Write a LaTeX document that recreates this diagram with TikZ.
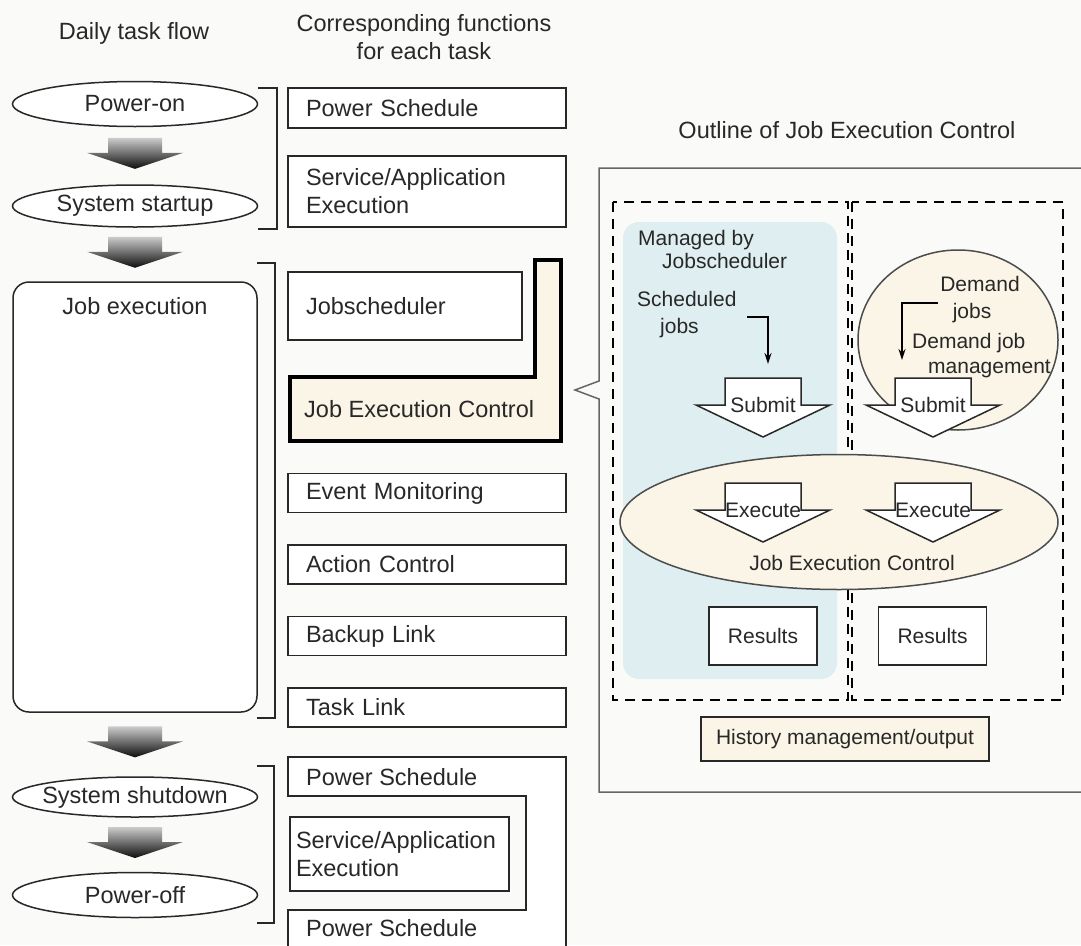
\documentclass[tikz,border=0pt]{standalone}
\usepackage{fontspec}
\setmainfont{Liberation Sans}
\usepackage{tikz}
\usetikzlibrary{shapes,arrows.meta,calc}
\definecolor{bgcol}{RGB}{250,251,249}
\definecolor{cream}{RGB}{250,245,230}
\definecolor{paleblue}{RGB}{223,238,240}
\definecolor{ink}{RGB}{40,40,40}
\newcommand{\mainsz}{\fontsize{23.5}{28}\selectfont}
\newcommand{\panelsz}{\fontsize{21}{26}\selectfont}
\tikzstyle{task}=[ellipse,draw=ink,line width=1.5pt,fill=white,inner xsep=-30pt,inner ysep=-8pt,minimum width=245pt,text=ink,font=\mainsz]
\tikzstyle{func}=[rectangle,draw=ink,line width=1.8pt,fill=white,inner xsep=18pt,inner ysep=0pt,text=ink,font=\mainsz,align=left]
\tikzstyle{flowarrow}=[top color=black!20,bottom color=black!95,draw=none]
\tikzstyle{bracket}=[draw=ink,line width=1.5pt]
\tikzstyle{dashbox}=[draw=black,line width=2pt,dash pattern=on 10pt off 7pt]
\tikzstyle{blockarrow}=[draw=ink,line width=1.5pt,fill=white,line join=miter]
\tikzstyle{paneltext}=[text=ink,font=\panelsz,inner sep=0pt]
\tikzstyle{jobarrow}=[draw=black,line width=1.5pt,-{Stealth[length=11pt,width=7pt]}]

\begin{document}
\begin{tikzpicture}[x=1pt,y=-1pt]
        \fill[bgcol] (0,0) rectangle (1081,945);
        \useasboundingbox (0,0) rectangle (1081,945);
        % headings
        \node[text=ink,font=\mainsz] (hflow) at (134,33) {Daily task flow};
        \node[text=ink,font=\mainsz,align=center] (hfunc) at (424,37) {Corresponding functions\\for each task};
        \node[text=ink,font=\mainsz] (houtline) at (847,130) {Outline of Job Execution Control};
        % daily task flow
        \node[task,minimum height=45pt] (poweron) at (135,104) {Power-on};
        \node[task,minimum height=42pt] (startup) at (135,206) {System startup};
        \node[draw=ink,line width=1.5pt,rounded corners=16pt,fill=white,minimum width=244pt,minimum height=430pt] (jobexec) at (135,497) {};
        \node[text=ink,font=\mainsz] (jobexectxt) at (135,306) {Job execution};
        \node[task,minimum height=40pt] (shutdown) at (135,797) {System shutdown};
        \node[task,minimum height=45pt] (poweroff) at (135,895) {Power-off};
        \foreach \a/\b in {poweron/startup,startup/jobexec,jobexec/shutdown,shutdown/poweroff}{
          \coordinate (m) at ($(\a.south)!0.45!(\b.north)$);
          \shade[flowarrow] ([shift={(-27,-15)}]m) -- ([shift={(27,-15)}]m) -- ([shift={(27,0)}]m)
            -- ([shift={(48,0)}]m) -- ([shift={(0,16)}]m) -- ([shift={(-48,0)}]m) -- ([shift={(-27,0)}]m) -- cycle;
        }
        \draw[bracket] (258,88) -- (277,88) -- (277,229) -- (258,229);
        \draw[bracket] (257,263) -- (275,263) -- (275,718) -- (257,718);
        \draw[bracket] (257,766) -- (274,766) -- (274,923) -- (257,923);
        % corresponding functions
        \node[func,minimum height=40pt,text width=242pt] (pwrsched) at (427,108) {Power Schedule};
        \node[func,minimum height=71pt,text width=242pt] (svcexec) at (427,191.5) {Service/Application\\Execution};
        \node[func,minimum height=68pt,text width=198pt] (jobsched) at (405,306) {Jobscheduler};
        \draw[line width=4.5pt,draw=black,fill=cream,line join=miter] (290,377) -- (535,377) -- (535,260) -- (561,260) -- (561,441) -- (290,441) -- cycle;
        \node[text=ink,font=\mainsz,anchor=west,inner sep=0pt] (jecbox) at (304,409) {Job Execution Control};
        \foreach \y/\name/\txt in {493/evmon/Event Monitoring,564.5/actctl/Action Control,636/backup/Backup Link,707.5/tasklink/Task Link}
          \node[func,minimum height=39pt,text width=242pt] (\name) at (427,\y) {\txt};
        \draw[draw=ink,line width=1.8pt,fill=white] (288,946) -- (288,910) -- (526,910) -- (526,796) -- (288,796) -- (288,757) -- (566,757) -- (566,946);
        \node[text=ink,font=\mainsz,anchor=west,inner sep=0pt] (pwrsched2) at (306,777) {Power Schedule};
        \node[func,inner xsep=6pt,minimum width=219pt,text width=207pt,minimum height=74pt] (svcexec2) at (399.5,854) {Service/Application\\Execution};
        \node[text=ink,font=\mainsz,anchor=west,inner sep=0pt] (pwrsched3) at (306,928) {Power Schedule};
        % outline of job execution control
        \draw[draw=black!60,line width=1.5pt] (1082,168) -- (599,168) -- (599,381) -- (575,390) -- (599,399) -- (599,792) -- (1082,792);
        \fill[paleblue,rounded corners=16pt] (623,222) rectangle (837,679);
        \draw[dashbox] (613,202) rectangle (848,700);
        \draw[dashbox] (852,202) rectangle (1063,700);
        \node[ellipse,draw=black!70,line width=1.5pt,fill=cream,minimum width=200pt,minimum height=180pt] (demand) at (958,340) {};
        \node[paneltext,anchor=base west] (managed) at (638,245) {Managed by};
        \node[paneltext,anchor=base west] (managed2) at (662,268) {Jobscheduler};
        \node[paneltext,anchor=base west] (sched) at (637,306) {Scheduled};
        \node[paneltext,anchor=base west] (sched2) at (660,333) {jobs};
        \node[paneltext,anchor=base] (dem) at (980,291) {Demand};
        \node[paneltext,anchor=base] (dem2) at (972,318) {jobs};
        \node[paneltext,anchor=base west] (djm) at (912,348) {Demand job};
        \node[paneltext,anchor=base west] (djm2) at (928,373) {management};
        \coordinate (sj1) at (747,317);
        \coordinate (sj2) at (768,364);
        \draw[jobarrow] (sj1) -| (sj2);
        \coordinate (dj1) at (938,303);
        \coordinate (dj2) at (902,360);
        \draw[jobarrow] (dj1) -| (dj2);
        \node[ellipse,draw=black!70,line width=1.5pt,fill=cream,minimum width=438pt,minimum height=135pt] (jecell) at (839,522) {};
        \node[paneltext] (jectxt) at (852,563) {Job Execution Control};
        \foreach \cx/\ty/\txt/\name in {763/378/Submit/sub1,933/378/Submit/sub2,763/483/Execute/exe1,933/483/Execute/exe2}{
          \draw[blockarrow] ({\cx-38},\ty) -- ({\cx+38},\ty) -- ({\cx+38},{\ty+27}) -- ({\cx+67},{\ty+27})
            -- (\cx,{\ty+59}) -- ({\cx-67},{\ty+27}) -- ({\cx-38},{\ty+27}) -- cycle;
          \node[paneltext] (\name) at (\cx,{\ty+27}) {\txt};
        }
        \node[paneltext,draw=ink,line width=1.5pt,fill=white,minimum width=108pt,minimum height=58pt] (res1) at (763,636) {Results};
        \node[paneltext,draw=ink,line width=1.5pt,fill=white,minimum width=108pt,minimum height=58pt] (res2) at (932.5,636) {Results};
        \node[paneltext,draw=ink,line width=1.5pt,fill=cream,minimum width=288pt,minimum height=44pt] (hist) at (845,739) {History management/output};
      \end{tikzpicture}
\end{document}
